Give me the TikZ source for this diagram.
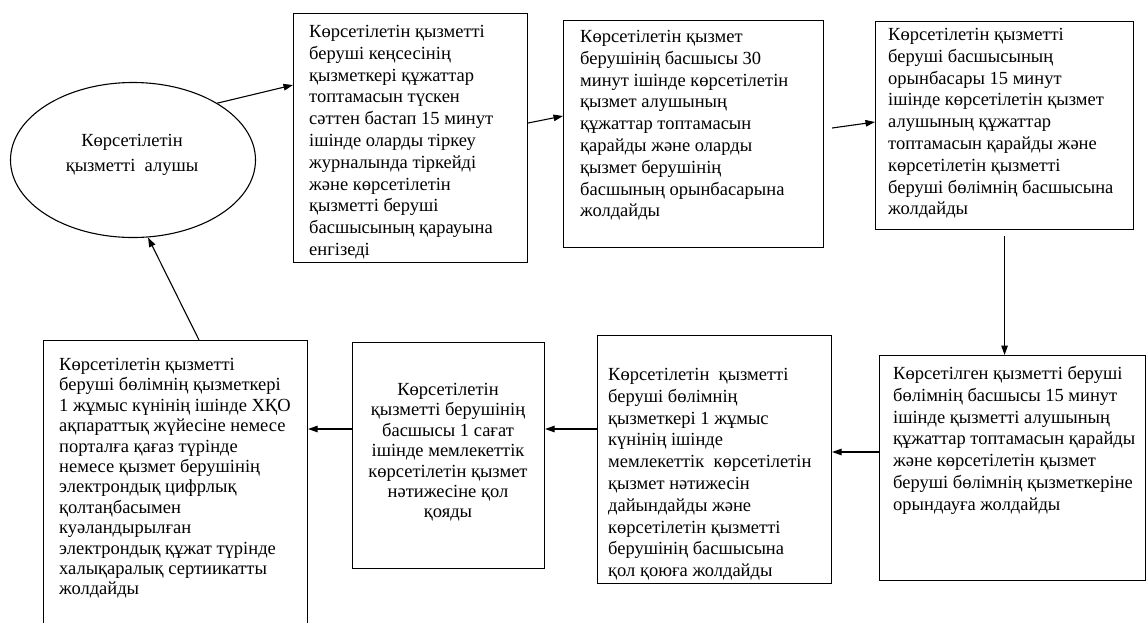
\documentclass[tikz,border=0pt]{standalone}
\usepackage{fontspec}
\setmainfont{Liberation Serif}
\usetikzlibrary{shapes.geometric,arrows.meta,calc}
\begin{document}
\begin{tikzpicture}[x=1pt,y=-1pt,
  box/.style={draw, line width=1.1pt, inner sep=0pt, anchor=north west},
  txt/.style={inner sep=0pt, align=left, anchor=north west, font=\fontsize{18.5}{21.8}\selectfont},
  txttight/.style={txt, font=\fontsize{18.5}{20.4}\selectfont},
  arr/.style={line width=1.1pt, -{Triangle[length=9.5pt,width=6.5pt]}}]
\fill[white] (0,0) rectangle (1147,622);
\useasboundingbox (0,0) rectangle (1147,622);
\begin{scope}
\clip (0,0) rectangle (1147,622);
% ellipse
\node[draw, ellipse, line width=1.1pt, minimum width=245pt, minimum height=155pt,
      inner sep=0pt] (e) at (133,160) {};
\node[align=center, inner sep=0pt, font=\fontsize{18.5}{25}\selectfont] (et) at (132,155)
      {Көрсетілетін\\қызметті\ \ алушы};
% boxes
\node[box, minimum width=234pt, minimum height=249pt] (b1) at (293,13) {};
\node[box, minimum width=260pt, minimum height=227pt] (b2) at (563,20) {};
\node[box, minimum width=258pt, minimum height=208pt] (b3) at (875,21) {};
\node[box, minimum width=266pt, minimum height=225pt] (b4) at (879,355) {};
\node[box, minimum width=234pt, minimum height=248pt] (b5) at (597,335) {};
\node[box, minimum width=192pt, minimum height=226pt] (b6) at (352,342) {};
\node[box, minimum width=264pt, minimum height=300pt] (b7) at (43,340) {};
% texts
\node[txt] (t1) at (309,25) {Көрсетілетін қызметті\\беруші кеңсесінің\\қызметкері құжаттар\\топтамасын түскен\\сәттен бастап 15 минут\\ішінде оларды тіркеу\\журналында тіркейді\\және көрсетілетін\\қызметті беруші\\басшысының қарауына\\енгізеді};
\node[txt] (t2) at (580,30) {Көрсетілетін қызмет\\берушінің басшысы 30\\минут ішінде көрсетілетін\\қызмет алушының\\құжаттар топтамасын\\қарайды және оларды\\қызмет берушінің\\басшының орынбасарына\\жолдайды};
\node[txt] (t3) at (888,28) {Көрсетілетін қызметті\\беруші басшысының\\орынбасары 15 минут\\ішінде көрсетілетін қызмет\\алушының құжаттар\\топтамасын қарайды және\\көрсетілетін қызметті\\беруші бөлімнің басшысына\\жолдайды};
\node[txt] (t4) at (893,366) {Көрсетілген қызметті беруші\\бөлімнің басшысы 15 минут\\ішінде қызметті алушының\\құжаттар топтамасын қарайды\\және көрсетілетін қызмет\\беруші бөлімнің қызметкеріне\\орындауға жолдайды};
\node[txt] (t5) at (608,368) {Көрсетілетін\ \ қызметті\\беруші бөлімнің\\қызметкері 1 жұмыс\\күнінің ішінде\\мемлекеттік\ \ көрсетілетін\\қызмет нәтижесін\\дайындайды және\\көрсетілетін қызметті\\берушінің басшысына\\қол қоюға жолдайды};
\node[txttight, align=center, anchor=north] (t6) at (448,383) {Көрсетілетін\\қызметті берушінің\\басшысы 1 сағат\\ішінде мемлекеттік\\көрсетілетін қызмет\\нәтижесіне қол\\қояды};
\node[txttight] (t7) at (59,358) {Көрсетілетін қызметті\\беруші бөлімнің қызметкері\\1 жұмыс күнінің ішінде ХҚО\\ақпараттық жүйесіне немесе\\порталға қағаз түрінде\\немесе қызмет берушінің\\электрондық цифрлық\\қолтаңбасымен\\куәландырылған\\электрондық құжат түрінде\\халықаралық сертиикатты\\жолдайды};
% arrows
\draw[arr] (e.34) -- ($(b1.north west)+(0,72)$);
\draw[arr] ($(b1.north east)+(0,110)$) -- ($(b2.north west)+(0,96)$);
\draw[arr] ($(b2.north east)+(8,108)$) -- ($(b3.north west)+(0,101)$);
\draw[arr] ($(b3.south)+(0,6)$) -- (b3.south |- b4.north);
\coordinate (p5) at ($(b4.north west)+(0,97)$);
\draw[arr] (p5) -- (b5.east |- p5);
\coordinate (p6) at ($(b5.north west)+(0,94)$);
\draw[arr] (p6) -- (b6.east |- p6);
\coordinate (p7) at ($(b6.north west)+(0,87)$);
\draw[arr] (p7) -- (b7.east |- p7);
\draw[arr] ($(b7.north west)+(156,0)$) -- (e.-79);
\end{scope}
\end{tikzpicture}
\end{document}
